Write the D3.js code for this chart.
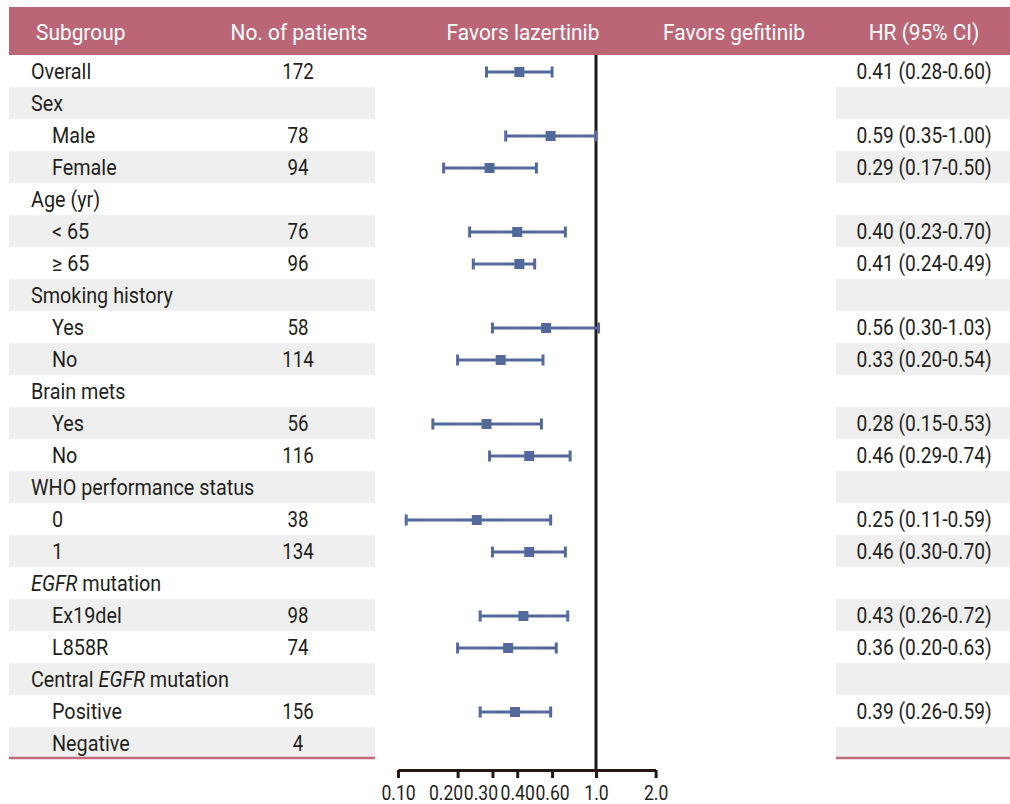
<!DOCTYPE html>
<html>
<head>
<meta charset="utf-8">
<script src="https://cdn.jsdelivr.net/npm/d3@7"></script>
<style>
  html, body { margin: 0; padding: 0; background: #fff; }
  svg text { font-family: Roboto, 'Noto Sans', sans-serif; }
</style>
</head>
<body>
<svg id="chart" width="1010" height="804"></svg>
<script>
// Subgroup rows, top to bottom
const subgroups = ["Overall", "Sex", "Male", "Female", "Age (yr)", "< 65", "≥ 65",
  "Smoking history", "Yes", "No", "Brain mets", "Yes", "No",
  "WHO performance status", "0", "1", "EGFR mutation", "Ex19del", "L858R",
  "Central EGFR mutation", "Positive", "Negative"];
const indent = [0, 0, 1, 1, 0, 1, 1, 0, 1, 1, 0, 1, 1, 0, 1, 1, 0, 1, 1, 0, 1, 1];
const patients = [172, null, 78, 94, null, 76, 96, null, 58, 114, null, 56, 116, null, 38, 134, null, 98, 74, null, 156, 4];
const hr    = [0.41, null, 0.59, 0.29, null, 0.40, 0.41, null, 0.56, 0.33, null, 0.28, 0.46, null, 0.25, 0.46, null, 0.43, 0.36, null, 0.39, null];
const ciLow = [0.28, null, 0.35, 0.17, null, 0.23, 0.24, null, 0.30, 0.20, null, 0.15, 0.29, null, 0.11, 0.30, null, 0.26, 0.20, null, 0.26, null];
const ciHigh= [0.60, null, 1.00, 0.50, null, 0.70, 0.49, null, 1.03, 0.54, null, 0.53, 0.74, null, 0.59, 0.70, null, 0.72, 0.63, null, 0.59, null];

const tickValues = [0.10, 0.20, 0.30, 0.40, 0.60, 1.0, 2.0];
const tickLabels = ["0.10", "0.20", "0.30", "0.40", "0.60", "1.0", "2.0"];

const headers = ["Subgroup", "No. of patients", "Favors lazertinib", "Favors gefitinib", "HR (95% CI)"];

const C = {
  header: "#bb6677",
  band: "#efefef",
  text: "#231f20",
  mark: "#53699c",
  ref: "#231815",
  rule: "#c06a7c"
};

const svg = d3.select("#chart");
const fontSize = 22;
// condensed look: text is narrowed horizontally
const HEAD_SX = 0.95, WORD_SX = 0.9, COUNT_SX = 0.85, NUM_SX = 0.87, TICK_SX = 0.9;

// position a text element at (x, y) with a horizontal squeeze
function place(sel, fx, fy, sx) {
  return sel.attr("x", 0).attr("y", 0)
    .attr("transform", (d, i) => `translate(${fx(d, i)},${fy(d, i)}) scale(${sx},1)`);
}

const rows = subgroups.map((s, i) => ({
  i, label: s, indent: indent[i], n: patients[i], hr: hr[i], lo: ciLow[i], hi: ciHigh[i]
}));

const y = d3.scaleBand().domain(d3.range(rows.length)).range([55, 759]).padding(0);
const x = d3.scaleLog().domain([0.1, 2]).range([398, 655.6]);
const mid = r => y(r.i) + y.bandwidth() / 2;

// alternating row shading in the left table and the HR column
const shaded = rows.filter(r => r.i % 2 === 1);
svg.append("g").selectAll("rect").data(shaded).join("rect")
  .attr("x", 9).attr("width", 366)
  .attr("y", r => y(r.i)).attr("height", y.bandwidth())
  .attr("fill", C.band);
svg.append("g").selectAll("rect").data(shaded).join("rect")
  .attr("x", 836).attr("width", 174)
  .attr("y", r => y(r.i)).attr("height", y.bandwidth())
  .attr("fill", C.band);

// header band
svg.append("rect").attr("x", 9).attr("y", 7).attr("width", 1001).attr("height", 48).attr("fill", C.header);
const headerPos = [
  { x: 36, anchor: "start" },
  { x: 299, anchor: "middle" },
  { x: 523, anchor: "middle" },
  { x: 734, anchor: "middle" },
  { x: 924, anchor: "middle" }
];
place(svg.append("g").selectAll("text").data(headers).join("text"),
    (d, i) => headerPos[i].x, () => 39.5, HEAD_SX)
  .attr("text-anchor", (d, i) => headerPos[i].anchor)
  .attr("fill", "#fff")
  .attr("font-size", fontSize)
  .text(d => d);

// subgroup labels (gene name in italics)
const labelSel = place(svg.append("g").selectAll("text").data(rows).join("text"),
    r => r.indent ? 52 : 31, mid, WORD_SX)
  .attr("dy", "0.36em")
  .attr("fill", C.text)
  .attr("font-size", fontSize);
labelSel.each(function (r) {
  const t = d3.select(this);
  r.label.split(/(EGFR)/).filter(p => p.length).forEach(p => {
    t.append("tspan").attr("font-style", p === "EGFR" ? "italic" : null).text(p);
  });
});

// patient counts
place(svg.append("g").selectAll("text").data(rows.filter(r => r.n != null)).join("text"),
    () => 298, mid, COUNT_SX)
  .attr("dy", "0.36em")
  .attr("text-anchor", "middle")
  .attr("fill", C.text)
  .attr("font-size", fontSize)
  .text(r => r.n);

// HR (95% CI) text
const f2 = d3.format(".2f");
place(svg.append("g").selectAll("text").data(rows.filter(r => r.hr != null)).join("text"),
    () => 924, mid, NUM_SX)
  .attr("dy", "0.36em")
  .attr("text-anchor", "middle")
  .attr("fill", C.text)
  .attr("font-size", fontSize)
  .text(r => `${f2(r.hr)} (${f2(r.lo)}-${f2(r.hi)})`);

// bottom rules
svg.append("line").attr("x1", 9).attr("x2", 375).attr("y1", 758).attr("y2", 758)
  .attr("stroke", C.rule).attr("stroke-width", 2.6);
svg.append("line").attr("x1", 836).attr("x2", 1010).attr("y1", 758).attr("y2", 758)
  .attr("stroke", C.rule).attr("stroke-width", 2.6);

// axis; the crowded low-end labels are nudged left so they don't collide
const axisY = 770;
const labelNudge = v => (v === 0.2 || v === 0.3) ? -12 : 0;
const axis = svg.append("g").attr("transform", `translate(0,${axisY})`)
  .call(d3.axisBottom(x).tickValues(tickValues).tickFormat((d, i) => tickLabels[i])
    .tickSize(8).tickSizeOuter(0));
axis.select(".domain").attr("stroke", C.ref).attr("stroke-width", 3);
axis.selectAll(".tick line").attr("stroke", C.ref).attr("stroke-width", 3);
axis.selectAll(".tick text")
  .attr("y", 0).attr("dy", null)
  .attr("transform", d => `translate(${labelNudge(d)},30) scale(${TICK_SX},1)`)
  .attr("fill", C.text).attr("font-size", 19.5)
  .style("font-family", "Roboto, 'Noto Sans', sans-serif");

// line of no effect
svg.append("line").attr("x1", x(1)).attr("x2", x(1)).attr("y1", 55).attr("y2", axisY)
  .attr("stroke", C.ref).attr("stroke-width", 3);

// confidence intervals and point estimates
const est = rows.filter(r => r.hr != null);
const cy = r => mid(r) + 1;
const ci = svg.append("g");
ci.selectAll("line.ci").data(est).join("line").attr("class", "ci")
  .attr("x1", r => x(r.lo)).attr("x2", r => x(r.hi))
  .attr("y1", cy).attr("y2", cy)
  .attr("stroke", C.mark).attr("stroke-width", 3);
ci.selectAll("line.lo").data(est).join("line").attr("class", "lo")
  .attr("x1", r => x(r.lo)).attr("x2", r => x(r.lo))
  .attr("y1", r => cy(r) - 5.5).attr("y2", r => cy(r) + 5.5)
  .attr("stroke", C.mark).attr("stroke-width", 3);
ci.selectAll("line.hi").data(est).join("line").attr("class", "hi")
  .attr("x1", r => x(r.hi)).attr("x2", r => x(r.hi))
  .attr("y1", r => cy(r) - 5.5).attr("y2", r => cy(r) + 5.5)
  .attr("stroke", C.mark).attr("stroke-width", 3);
ci.selectAll("rect").data(est).join("rect")
  .attr("x", r => x(r.hr) - 5).attr("y", r => cy(r) - 5)
  .attr("width", 10).attr("height", 10)
  .attr("fill", C.mark);
</script>
</body>
</html>
